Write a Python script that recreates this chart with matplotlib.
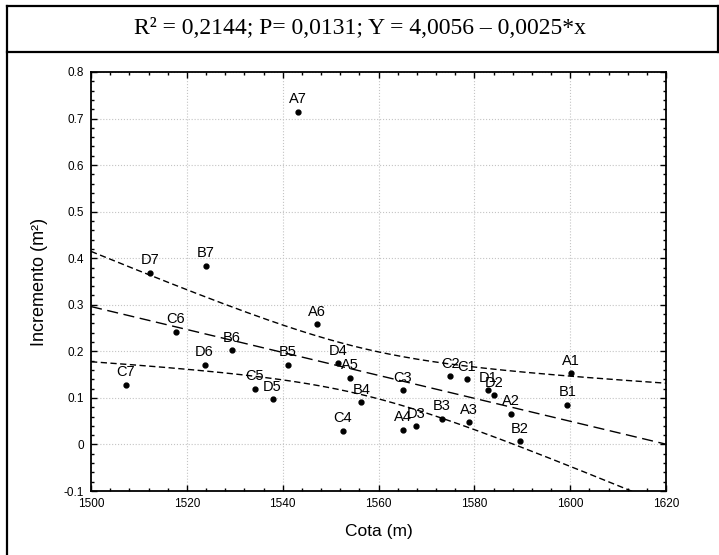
import numpy as np
import matplotlib
matplotlib.use("Agg")
import matplotlib.pyplot as plt
from matplotlib.ticker import MultipleLocator, AutoMinorLocator
from matplotlib.lines import Line2D

# parcel labels, altitude (m) and increment (m2)
labels = ["A1", "A2", "A3", "A4", "A5", "A6", "A7",
          "B1", "B2", "B3", "B4", "B5", "B6", "B7",
          "C1", "C2", "C3", "C4", "C5", "C6", "C7",
          "D1", "D2", "D3", "D4", "D5", "D6", "D7"]
cota = [1600.2, 1587.6, 1578.9, 1565.1, 1554.0, 1547.1, 1543.1,
        1599.4, 1589.5, 1573.2, 1556.4, 1541.1, 1529.4, 1524.0,
        1578.4, 1575.0, 1565.1, 1552.5, 1534.2, 1517.7, 1507.2,
        1582.8, 1584.1, 1567.8, 1551.6, 1537.9, 1523.7, 1512.3]
incremento = [0.153, 0.066, 0.048, 0.032, 0.143, 0.258, 0.715,
              0.085, 0.007, 0.055, 0.091, 0.171, 0.202, 0.384,
              0.140, 0.146, 0.116, 0.029, 0.119, 0.242, 0.128,
              0.116, 0.106, 0.039, 0.174, 0.097, 0.171, 0.369]

title = "R² = 0,2144; P= 0,0131; Y = 4,0056 – 0,0025*x"

x = np.array(cota)
y = np.array(incremento)

# linear fit with 95% confidence band of the mean
n = len(x)
b, a = np.polyfit(x, y, 1)
resid = y - (a + b * x)
s = np.sqrt(np.sum(resid ** 2) / (n - 2))
xs = np.linspace(1500, 1620, 200)
fit = a + b * xs
se = s * np.sqrt(1 / n + (xs - x.mean()) ** 2 / np.sum((x - x.mean()) ** 2))
t = 2.052
upper = fit + t * se
lower = fit - t * se

fig = plt.figure(figsize=(7.19, 5.55), dpi=100)
ax = fig.add_axes([0.1266, 0.1153, 0.7997, 0.755])

ax.plot(xs, fit, color="black", lw=1.0, dashes=(8, 4))
ax.plot(xs, upper, color="black", lw=1.0, dashes=(4.5, 2.5))
ax.plot(xs, lower, color="black", lw=1.0, dashes=(4.5, 2.5))
ax.plot(x, y, "o", color="black", ms=3.5, zorder=3)

for lab, xi, yi in zip(labels, cota, incremento):
    ax.annotate(lab, (xi, yi), xytext=(0, 4), textcoords="offset points",
                ha="center", va="bottom", fontsize=10.5, family="Liberation Sans")

ax.set_xlim(1500, 1620)
ax.set_ylim(-0.1, 0.8)
ax.xaxis.set_major_locator(MultipleLocator(20))
ax.xaxis.set_minor_locator(AutoMinorLocator(5))
ax.yaxis.set_minor_locator(AutoMinorLocator(5))
ax.set_yticks(np.arange(-0.1, 0.81, 0.1))
ax.set_yticklabels(["-0.1", "0", "0.1", "0.2", "0.3", "0.4", "0.5", "0.6", "0.7", "0.8"])
ax.tick_params(which="both", direction="in", top=True, right=True,
               labelsize=8.5, pad=5, width=1)
ax.tick_params(which="major", length=4)
ax.tick_params(which="minor", length=2.5)
for lbl in ax.get_xticklabels() + ax.get_yticklabels():
    lbl.set_family("Liberation Sans")
ax.grid(True, which="major", color="#c4c4c4", ls=":", lw=0.8)
for sp in ax.spines.values():
    sp.set_linewidth(1.3)

ax.set_xlabel("Cota (m)", fontsize=12.5, family="Liberation Sans", labelpad=10)
ax.set_ylabel("Incremento (m²)", fontsize=13, family="Liberation Sans", labelpad=11)

# title box and outer frame
fig.text(0.5, 1 - 28 / 555, title, ha="center", va="center",
         fontsize=17, family="Liberation Serif")
bx = 7 / 719
top = 1 - 6 / 555
sep = 1 - 52 / 555
fig.add_artist(Line2D([bx, bx], [0, top], color="black", lw=1.6, transform=fig.transFigure))
fig.add_artist(Line2D([bx, 1], [top, top], color="black", lw=1.6, transform=fig.transFigure))
fig.add_artist(Line2D([bx, 1], [sep, sep], color="black", lw=1.6, transform=fig.transFigure))
fig.add_artist(Line2D([0.9985, 0.9985], [sep, top], color="black", lw=1.6, transform=fig.transFigure))

fig.savefig("out.png", dpi=100)
